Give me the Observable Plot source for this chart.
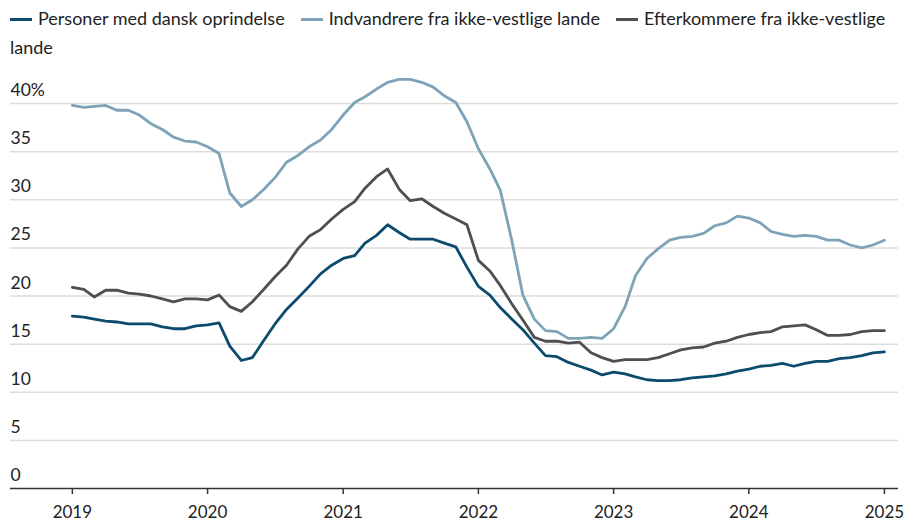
<!DOCTYPE html>
<html>
<head>
<meta charset="utf-8">
<script src="https://cdn.jsdelivr.net/npm/d3@7"></script>
<script src="https://cdn.jsdelivr.net/npm/@observablehq/plot@0.6"></script>
<style>
  html, body { margin: 0; padding: 0; background: #fff; }
  body { width: 906px; height: 524px; overflow: hidden; font-family: Lato, "Open Sans", sans-serif; color: #222; }
  .legend { box-sizing: border-box; width: 906px; height: 60px; padding: 4px 0 0 10px; font-size: 18px; line-height: 29px; }
  .sw { display: inline-block; width: 22px; height: 3px; vertical-align: middle; margin-right: 6px; position: relative; top: -1px; }
  .item { margin-right: 16px; }
  #chart svg { display: block; }
</style>
</head>
<body>
<div class="legend" id="legend"></div>
<div id="chart"></div>
<script>
// ---- data (monthly, Jan 2019 – Jan 2025), percent ----
const seriesNames = ["Personer med dansk oprindelse", "Indvandrere fra ikke-vestlige lande", "Efterkommere fra ikke-vestlige lande"];
const seriesColors = ["#0c4a6e", "#7ea3b8", "#4f4f4f"];

const dansk = [
  17.9, 17.8, 17.6, 17.4, 17.3, 17.1, 17.1, 17.1, 16.8, 16.6, 16.6, 16.9,
  17.0, 17.2, 14.8, 13.3, 13.6, 15.4, 17.1, 18.6, 19.8, 21.0, 22.3, 23.2,
  23.9, 24.2, 25.5, 26.3, 27.4, 26.6, 25.9, 25.9, 25.9, 25.5, 25.1, 23.0,
  21.0, 20.1, 18.8, 17.6, 16.5, 15.1, 13.8, 13.7, 13.1, 12.7, 12.3, 11.8,
  12.1, 11.9, 11.6, 11.3, 11.2, 11.2, 11.3, 11.5, 11.6, 11.7, 11.9, 12.2,
  12.4, 12.7, 12.8, 13.0, 12.7, 13.0, 13.2, 13.2, 13.5, 13.6, 13.8, 14.1,
  14.2
];
const indvandrere = [
  39.8, 39.6, 39.7, 39.8, 39.3, 39.3, 38.8, 37.9, 37.3, 36.5, 36.1, 36.0,
  35.5, 34.8, 30.7, 29.3, 30.0, 31.1, 32.3, 33.9, 34.6, 35.5, 36.2, 37.3,
  38.8, 40.1, 40.7, 41.5, 42.2, 42.5, 42.5, 42.2, 41.7, 40.8, 40.1, 38.1,
  35.3, 33.2, 31.0, 25.8, 20.1, 17.6, 16.4, 16.3, 15.6, 15.6, 15.7, 15.6,
  16.6, 18.9, 22.1, 23.9, 24.9, 25.8, 26.1, 26.2, 26.5, 27.3, 27.6, 28.3,
  28.1, 27.6, 26.7, 26.4, 26.2, 26.3, 26.2, 25.8, 25.8, 25.3, 25.0, 25.3,
  25.8
];
const efterkommere = [
  20.9, 20.7, 19.9, 20.6, 20.6, 20.3, 20.2, 20.0, 19.7, 19.4, 19.7, 19.7,
  19.6, 20.1, 18.9, 18.4, 19.4, 20.7, 22.0, 23.2, 24.9, 26.2, 26.9, 28.0,
  29.0, 29.8, 31.2, 32.4, 33.2, 31.1, 29.9, 30.1, 29.3, 28.6, 28.0, 27.4,
  23.7, 22.6, 21.1, 19.2, 17.5, 15.7, 15.3, 15.3, 15.1, 15.2, 14.1, 13.6,
  13.2, 13.4, 13.4, 13.4, 13.6, 14.0, 14.4, 14.6, 14.7, 15.1, 15.3, 15.7,
  16.0, 16.2, 16.3, 16.8, 16.9, 17.0, 16.5, 15.9, 15.9, 16.0, 16.3, 16.4,
  16.4
];
const yTicks = [0, 5, 10, 15, 20, 25, 30, 35, 40];
const xTickYears = [2019, 2020, 2021, 2022, 2023, 2024, 2025];

// ---- build table ----
const months = d3.utcMonth.range(new Date(Date.UTC(2019, 0, 1)), new Date(Date.UTC(2025, 0, 2)));
const values = [dansk, indvandrere, efterkommere];
const rows = [];
values.forEach((arr, i) => arr.forEach((v, j) => rows.push({date: months[j], value: v, series: seriesNames[i]})));

// ---- legend (words as separate spans so the natural wrap keeps tight text boxes) ----
const legend = document.getElementById("legend");
legend.innerHTML = seriesNames.map((n, i) =>
  `<span class="sw" style="background:${seriesColors[i]}"></span><span class="item">${
    n.split(" ").map(w => `<span>${w}</span>`).join(" ")}</span>`).join("");

// ---- chart ----
const xStart = d3.utcDay.offset(new Date(Date.UTC(2019, 0, 1)), -167);
const xEnd = d3.utcDay.offset(new Date(Date.UTC(2025, 0, 1)), 38);

const chart = Plot.plot({
  width: 906,
  height: 464,
  marginTop: 43,
  marginBottom: 36,
  marginLeft: 10,
  marginRight: 8,
  style: {fontFamily: "Lato, 'Open Sans', sans-serif", fontSize: "17px", color: "#222", background: "#fff"},
  x: {type: "utc", domain: [xStart, xEnd]},
  y: {domain: [0, 40]},
  color: {domain: seriesNames, range: seriesColors},
  marks: [
    Plot.gridY(yTicks.filter(d => d > 0), {stroke: "#dcdcdc", strokeOpacity: 1, strokeWidth: 1.5}),
    Plot.ruleY([0], {stroke: "#333", strokeWidth: 1.5}),
    Plot.axisY(yTicks, {anchor: "left", tickSize: 0, tickPadding: 0, textAnchor: "start", dy: -13,
      tickFormat: d => d === 40 ? "40%" : String(d), label: null, fill: "#222", fontSize: 17.5}),
    Plot.axisX(xTickYears.map(y => new Date(Date.UTC(y, 0, 1))), {anchor: "bottom", tickSize: 6, tickPadding: 11,
      tickFormat: d3.utcFormat("%Y"), label: null, stroke: "#333", strokeWidth: 1.5, fill: "#222"}),
    Plot.lineY(rows, {x: "date", y: "value", z: "series", stroke: "series", strokeWidth: 2.8,
      strokeLinejoin: "round", strokeLinecap: "round"})
  ]
});
document.getElementById("chart").appendChild(chart);
</script>
</body>
</html>
